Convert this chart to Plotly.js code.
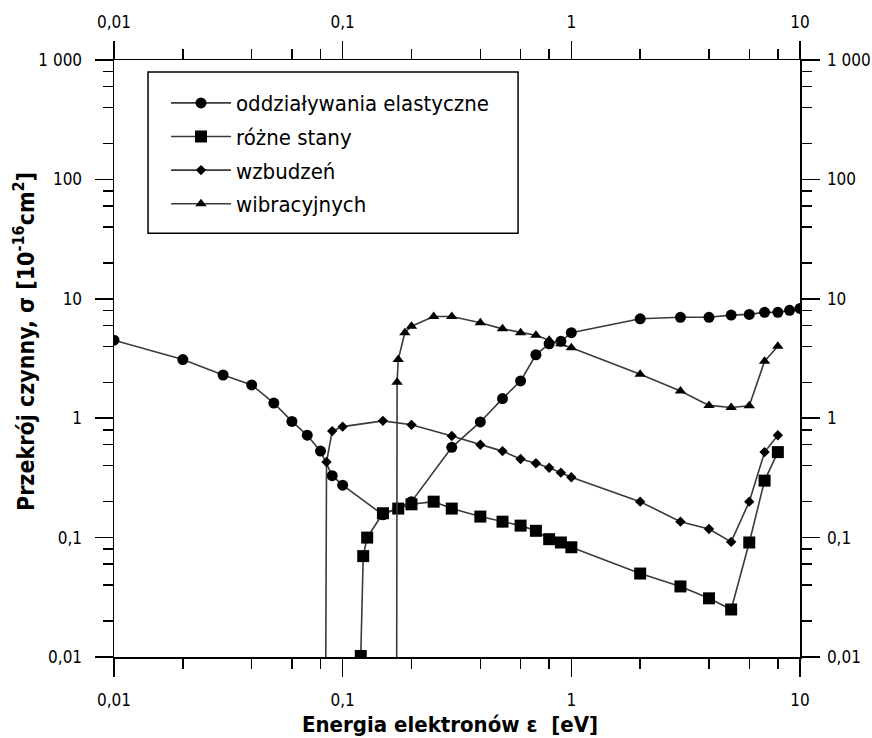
<!DOCTYPE html>
<html>
<head>
<meta charset="utf-8">
<script src="https://cdn.plot.ly/plotly-3.0.1.min.js"></script>
<style>html,body{margin:0;padding:0;background:#fff;}#chart{width:872px;height:738px;}</style>
</head>
<body>
<div id="chart"></div>
<script>
// ---- data ----
const seriesNames = ["oddziaływania elastyczne", "różne stany", "wzbudzeń", "wibracyjnych"];

const energyElastic = [0.01,0.02,0.03,0.04,0.05,0.06,0.07,0.08,0.09,0.1,0.15,0.2,0.3,0.4,0.5,0.6,0.7,0.8,0.9,1,2,3,4,5,6,7,8,9,10];
const sigmaElastic  = [4.5,3.1,2.3,1.9,1.34,0.94,0.72,0.53,0.33,0.275,0.155,0.2,0.57,0.93,1.46,2.05,3.4,4.2,4.4,5.2,6.8,7.0,7.0,7.3,7.4,7.7,7.7,8.0,8.3];

const energyStates = [0.12,0.123,0.128,0.15,0.175,0.2,0.25,0.3,0.4,0.5,0.6,0.7,0.8,0.9,1,2,3,4,5,6,7,8];
const sigmaStates  = [0.0102,0.07,0.1,0.16,0.175,0.19,0.2,0.175,0.15,0.136,0.126,0.114,0.097,0.091,0.083,0.05,0.039,0.031,0.025,0.091,0.30,0.52];

const energyExcit = [0.084,0.085,0.09,0.1,0.15,0.2,0.3,0.4,0.5,0.6,0.7,0.8,0.9,1,2,3,4,5,6,7,8];
const sigmaExcit  = [0.001,0.43,0.78,0.85,0.95,0.88,0.71,0.6,0.53,0.455,0.42,0.385,0.35,0.32,0.2,0.136,0.118,0.092,0.2,0.52,0.72];

const energyVib = [0.172,0.173,0.175,0.187,0.2,0.25,0.3,0.4,0.5,0.6,0.7,0.8,0.9,1,2,3,4,5,6,7,8];
const sigmaVib  = [0.001,2.0,3.1,5.2,5.9,7.1,7.1,6.3,5.6,5.2,4.95,4.5,4.2,3.9,2.33,1.69,1.28,1.23,1.27,3.0,4.0];

const xTickVals = [0.01,0.1,1,10];
const xTickText = ["0,01","0,1","1","10"];
const yTickVals = [0.01,0.1,1,10,100,1000];
const yTickText = ["0,01","0,1","1","10","100","1 000"];
const minorDigits = [2,4,6,8];

const xTitle = "Energia elektronów ε  [eV]";
const yTitle = "Przekrój czynny, σ [10<sup>-16</sup>cm<sup>2</sup>]";

// ---- build ----
function minorVals(lo, hi){
  const out=[];
  for(let e=lo;e<hi;e++){ minorDigits.forEach(d=>out.push(d*Math.pow(10,e))); }
  return out;
}
const FONT = "Tahoma, 'DejaVu Sans Condensed', 'DejaVu Sans', sans-serif";
const lineStyle = {color:'#3a3a3a', width:1.6};
const mk = (sym, size) => ({symbol:sym, size:size, color:'#000', line:{width:0}});

const traces = [
  {x:energyElastic, y:sigmaElastic, name:seriesNames[0], legendgroup:'a', mode:'lines+markers', line:lineStyle, marker:mk('circle',11)},
  {x:energyStates, y:sigmaStates, name:seriesNames[1], legendgroup:'b', mode:'lines+markers', line:lineStyle, marker:mk('square',12)},
  {x:energyExcit, y:sigmaExcit, name:seriesNames[2], legendgroup:'c', mode:'lines+markers', line:lineStyle, marker:mk('diamond',8)},
  {x:energyVib, y:sigmaVib, name:seriesNames[3], legendgroup:'d', mode:'lines+markers', line:lineStyle, marker:mk('triangle-up',10)},
  {x:[], y:[], xaxis:'x2', yaxis:'y2', showlegend:false, hoverinfo:'skip', mode:'markers'}
];

const xMinor = minorVals(-2,1);
const yMinor = minorVals(-2,3);
const minorX = {tickmode:'array', tickvals:xMinor, ticks:'outside', ticklen:10, tickwidth:1.5, tickcolor:'#000'};
const minorY = {tickmode:'array', tickvals:yMinor, ticks:'outside', ticklen:10, tickwidth:1.5, tickcolor:'#000'};
const common = {
  type:'log', showgrid:false, zeroline:false, showline:true, linecolor:'#000', linewidth:1.5,
  ticks:'outside', ticklen:18, tickwidth:1.5, tickcolor:'#000', tickmode:'array', ticklabelstandoff:9,
  tickfont:{family:FONT, size:17, color:'#000'}
};

const layout = {
  width:872, height:738,
  margin:{l:114, r:72, t:60, b:81, pad:0},
  paper_bgcolor:'#fff', plot_bgcolor:'#fff',
  font:{family:FONT, color:'#000'},
  showlegend:true,
  legend:{x:(166-114)/686, y:0.963, xanchor:'left', yanchor:'top', bgcolor:'rgba(0,0,0,0)', borderwidth:0,
          itemwidth:60, traceorder:'grouped', tracegroupgap:2,
          font:{family:FONT, size:22, color:'#000'}},
  xaxis:Object.assign({}, common, {range:[-2,1], tickvals:xTickVals, ticktext:xTickText, minor:minorX}),
  yaxis:Object.assign({}, common, {range:[-2,3], tickvals:yTickVals, ticktext:yTickText, minor:minorY}),
  xaxis2:Object.assign({}, common, {range:[-2,1], tickvals:xTickVals, ticktext:xTickText, overlaying:'x', side:'top', anchor:'y2', minor:minorX, ticklabelstandoff:6}),
  yaxis2:Object.assign({}, common, {range:[-2,3], tickvals:yTickVals, ticktext:yTickText, overlaying:'y', side:'right', anchor:'x2', minor:minorY, ticklabelstandoff:4}),
  annotations:[
    {text:xTitle, xref:'paper', yref:'paper', x:0.49, y:(657-725)/597, xanchor:'center', yanchor:'middle', showarrow:false,
     font:{family:FONT, size:22, color:'#000', weight:'bold'}},
    {text:yTitle, xref:'paper', yref:'paper', x:(24-114)/686, y:(657-342)/597, xanchor:'center', yanchor:'middle', showarrow:false, textangle:-90,
     font:{family:FONT, size:23, color:'#000', weight:'bold'}}
  ],
  shapes:[{type:'rect', xref:'paper', yref:'paper', x0:0.0496, x1:0.589, y0:0.710, y1:0.980,
           line:{color:'#000', width:1.5}, fillcolor:'rgba(0,0,0,0)'}]
};

Plotly.newPlot('chart', traces, layout, {staticPlot:true, displayModeBar:false});
</script>
</body>
</html>
